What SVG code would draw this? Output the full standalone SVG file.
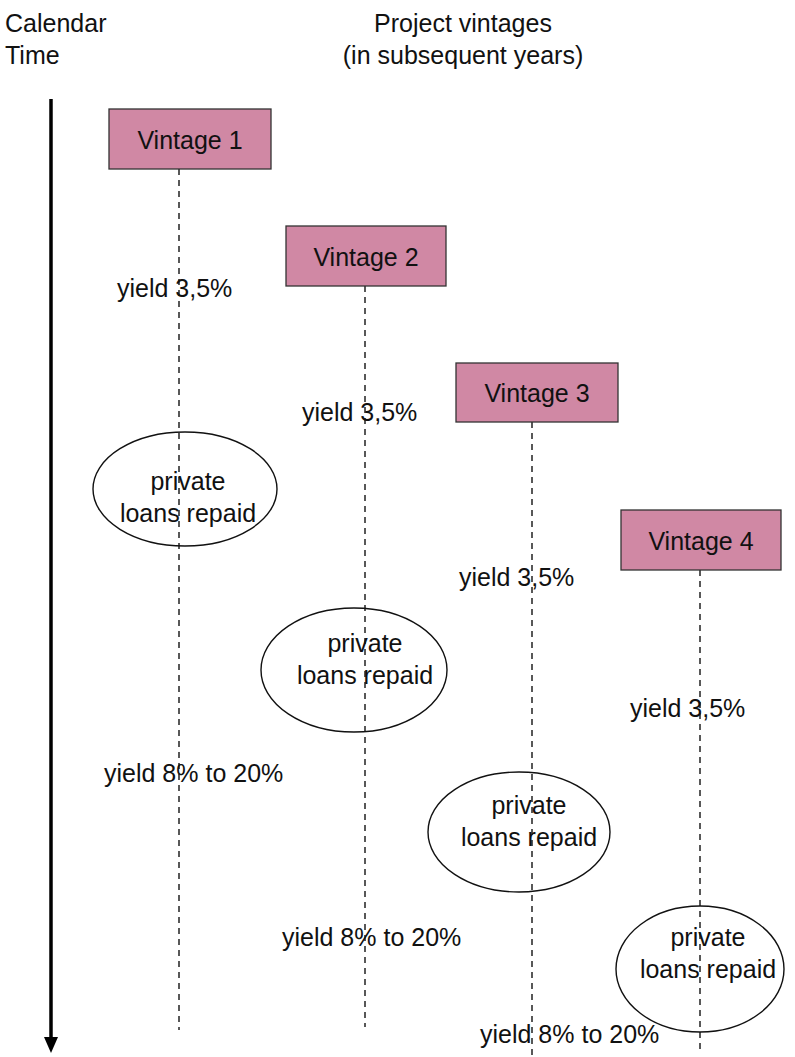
<svg xmlns="http://www.w3.org/2000/svg" width="795" height="1057" viewBox="0 0 795 1057">
  <defs>
    <style>
      text { font-family: "Liberation Sans", Arial, sans-serif; font-size: 25px; fill: #111; }
      .c { text-anchor: middle; }
      .box { fill: #d088a4; stroke: #333; stroke-width: 1.3; }
      .oval { fill: none; stroke: #111; stroke-width: 1.4; }
      .life { stroke: #222; stroke-width: 1.5; stroke-dasharray: 6 5; fill: none; }
      .time { stroke: #000; stroke-width: 3.5; fill: none; }
    </style>
    <marker id="arrowhead" markerWidth="5" markerHeight="5" refX="2.5" refY="2.5" orient="auto" markerUnits="userSpaceOnUse" viewBox="0 0 5 5">
      <path d="M0,0 L5,2.5 L0,5 Z" fill="#000"/>
    </marker>
  </defs>

  <rect width="795" height="1057" fill="#fff"/>

  <!-- headings -->
  <text x="5" y="32">Calendar</text>
  <text x="5" y="64">Time</text>
  <text class="c" x="463" y="32">Project vintages</text>
  <text class="c" x="463" y="64">(in subsequent years)</text>

  <!-- time axis and vintage lifelines -->
  <g id="connectors">
    <line class="time" x1="51" y1="99" x2="51" y2="1038"/>
    <path d="M44,1037 L58,1037 L51,1053 Z" fill="#000"/>
    <line class="life" x1="179" y1="169" x2="179" y2="1030"/>
    <line class="life" x1="365" y1="286" x2="365" y2="1027"/>
    <line class="life" x1="532" y1="422" x2="532" y2="1057"/>
    <line class="life" x1="700" y1="570" x2="700" y2="1052"/>
  </g>

  <!-- vintage boxes -->
  <g id="vintage1">
    <rect class="box" x="109" y="109" width="162" height="60"/>
    <text class="c" x="190" y="149">Vintage 1</text>
  </g>
  <g id="vintage2">
    <rect class="box" x="286" y="226" width="160" height="60"/>
    <text class="c" x="366" y="266">Vintage 2</text>
  </g>
  <g id="vintage3">
    <rect class="box" x="456" y="363" width="162" height="59"/>
    <text class="c" x="537" y="402">Vintage 3</text>
  </g>
  <g id="vintage4">
    <rect class="box" x="621" y="510" width="160" height="60"/>
    <text class="c" x="701" y="550">Vintage 4</text>
  </g>

  <!-- yield labels -->
  <g id="yield-low">
    <text x="117" y="297">yield 3,5%</text>
    <text x="302" y="421">yield 3,5%</text>
    <text x="459" y="586">yield 3,5%</text>
    <text x="630" y="717">yield 3,5%</text>
  </g>
  <g id="yield-high">
    <text x="104" y="782">yield 8% to 20%</text>
    <text x="282" y="946">yield 8% to 20%</text>
    <text x="480" y="1043">yield 8% to 20%</text>
  </g>

  <!-- repayment ovals -->
  <g id="repaid1">
    <ellipse class="oval" cx="185" cy="489" rx="92" ry="57"/>
    <text class="c" x="188" y="490">private</text>
    <text class="c" x="188" y="522">loans repaid</text>
  </g>
  <g id="repaid2">
    <ellipse class="oval" cx="354" cy="670" rx="93" ry="62"/>
    <text class="c" x="365" y="652">private</text>
    <text class="c" x="365" y="684">loans repaid</text>
  </g>
  <g id="repaid3">
    <ellipse class="oval" cx="519" cy="832" rx="91" ry="60"/>
    <text class="c" x="529" y="814">private</text>
    <text class="c" x="529" y="846">loans repaid</text>
  </g>
  <g id="repaid4">
    <ellipse class="oval" cx="700" cy="969" rx="84" ry="63"/>
    <text class="c" x="708" y="946">private</text>
    <text class="c" x="708" y="978">loans repaid</text>
  </g>
</svg>
